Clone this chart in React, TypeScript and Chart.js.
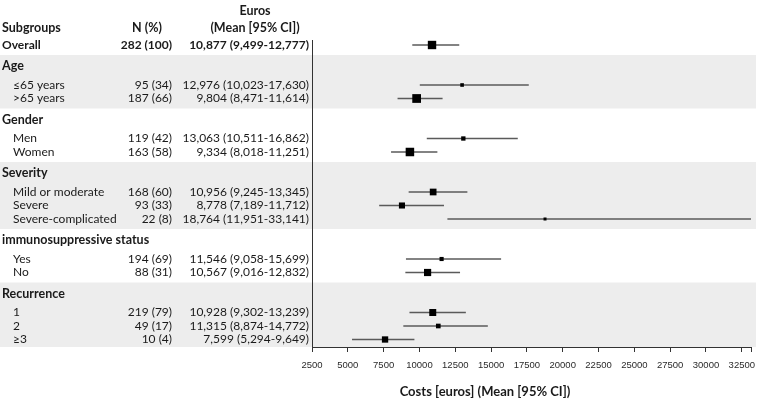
import React, { useEffect, useRef } from 'react';
import { Chart, registerables } from 'chart.js';

Chart.register(...registerables);

// ---- data ----
const groupNames = ['Age', 'Gender', 'Severity', 'immunosuppressive status', 'Recurrence'];
const rowLabels = ['Overall', '≤65 years', '>65 years', 'Men', 'Women', 'Mild or moderate', 'Severe', 'Severe-complicated', 'Yes', 'No', '1', '2', '≥3'];
const rowGroup = [null, 'Age', 'Age', 'Gender', 'Gender', 'Severity', 'Severity', 'Severity', 'immunosuppressive status', 'immunosuppressive status', 'Recurrence', 'Recurrence', 'Recurrence'];
const nValues = [282, 95, 187, 119, 163, 168, 93, 22, 194, 88, 219, 49, 10];
const nPct = [100, 34, 66, 42, 58, 60, 33, 8, 69, 31, 79, 17, 4];
const means = [10877, 12976, 9804, 13063, 9334, 10956, 8778, 18764, 11546, 10567, 10928, 11315, 7599];
const lower = [9499, 10023, 8471, 10511, 8018, 9245, 7189, 11951, 9058, 9016, 9302, 8874, 5294];
const upper = [12777, 17630, 11614, 16862, 11251, 13345, 11712, 33141, 15699, 12832, 13239, 14772, 9649];
const xTicks = [2500, 5000, 7500, 10000, 12500, 15000, 17500, 20000, 22500, 25000, 27500, 30000, 32500];
const xMin = 2500;
const xMax = 33141;

const fmt = (v: number) => v.toLocaleString('en-US');

export default function App() {
  const ref = useRef<HTMLCanvasElement>(null);

  useEffect(() => {
    document.body.style.margin = '0';
    const canvas = ref.current;
    if (!canvas) return;

    // layout of rows (vertical positions in px-like units)
    const rowPos: number[] = [];
    const headers: { name: string; pos: number; first: number; last: number }[] = [];
    let p = 0;
    let prev: string | null = null;
    rowLabels.forEach((_, i) => {
      const g = rowGroup[i];
      if (i === 0) {
        p = 0;
      } else if (g !== prev) {
        p += 21;
        headers.push({ name: g as string, pos: p, first: i, last: i });
        p += 19;
      } else {
        p += 13.5;
      }
      if (headers.length && g === headers[headers.length - 1].name) headers[headers.length - 1].last = i;
      rowPos.push(p);
      prev = g;
    });

    const textColor = '#1a1a1a';
    const fontFam = 'Lato, "Open Sans", sans-serif';

    const tablePlugin = {
      id: 'tablePlugin',
      beforeDraw(chart: any) {
        const { ctx, chartArea } = chart;
        const y = chart.scales.y;
        ctx.save();
        ctx.fillStyle = '#ededed';
        headers.forEach((h, gi) => {
          if (gi % 2 !== 0) return;
          const top = y.getPixelForValue(h.pos - 11);
          const bottom = Math.min(y.getPixelForValue(rowPos[h.last] + 10), chartArea.bottom);
          ctx.fillRect(0, top, 756, bottom - top);
        });
        ctx.restore();
      },
      afterDraw(chart: any) {
        const { ctx } = chart;
        const y = chart.scales.y;
        ctx.save();
        ctx.fillStyle = textColor;
        ctx.textBaseline = 'middle';
        // column headers
        ctx.font = `bold 12.5px ${fontFam}`;
        ctx.textAlign = 'left';
        ctx.fillText('Subgroups', 2, 28);
        ctx.textAlign = 'center';
        ctx.fillText('N (%)', 147, 28);
        ctx.fillText('Euros', 255, 11);
        ctx.fillText('(Mean [95% CI])', 255, 28);
        // group headers
        headers.forEach((h) => {
          ctx.textAlign = 'left';
          ctx.font = `bold 12.5px ${fontFam}`;
          ctx.fillText(h.name, 2, y.getPixelForValue(h.pos));
        });
        // rows
        rowLabels.forEach((lab, i) => {
          const py = y.getPixelForValue(rowPos[i]);
          const bold = rowGroup[i] === null;
          ctx.font = `${bold ? 'bold ' : ''}12px ${fontFam}`;
          ctx.textAlign = 'left';
          ctx.fillText(lab, bold ? 2 : 13, py);
          ctx.textAlign = 'right';
          ctx.fillText(`${nValues[i]} (${nPct[i]})`, 172, py);
          ctx.fillText(`${fmt(means[i])} (${fmt(lower[i])}-${fmt(upper[i])})`, 309, py);
        });
        // axis title
        ctx.font = `bold 13px ${fontFam}`;
        ctx.textAlign = 'center';
        ctx.fillText('Costs [euros] (Mean [95% CI])', 485, 392);
        ctx.restore();
      },
    };

    const markerData = means.map((m, i) => ({ x: m, y: rowPos[i] }));
    const markerSide = means.map((_, i) => Math.max(3, 27500 / (upper[i] - lower[i])));

    const ciDatasets = means.map((_, i) => ({
      type: 'scatter' as const,
      data: [
        { x: lower[i], y: rowPos[i] },
        { x: upper[i], y: rowPos[i] },
      ],
      showLine: true,
      borderColor: '#5a5a5a',
      borderWidth: 1.3,
      pointRadius: 0,
      pointHoverRadius: 0,
    }));

    const chart = new Chart(canvas, {
      type: 'scatter',
      data: {
        datasets: [
          {
            data: markerData,
            pointStyle: 'rect',
            backgroundColor: '#000',
            borderColor: '#000',
            borderWidth: 0,
            pointRadius: (c: any) => markerSide[c.dataIndex] / Math.SQRT2,
            pointHoverRadius: (c: any) => markerSide[c.dataIndex] / Math.SQRT2,
          },
          ...ciDatasets,
        ] as any,
      },
      options: {
        responsive: false,
        animation: false,
        events: [],
        layout: { autoPadding: false, padding: { left: 312, top: 40, right: 7, bottom: 0 } },
        plugins: { legend: { display: false }, tooltip: { enabled: false } },
        scales: {
          x: {
            type: 'linear',
            min: xMin,
            max: xMax,
            afterBuildTicks: (scale: any) => {
              scale.ticks = [...xTicks, xMax].map((v) => ({ value: v }));
            },
            afterFit: (scale: any) => {
              scale.height = 58;
            },
            grid: { display: true, drawOnChartArea: false, drawTicks: true, tickLength: 5, color: '#333', lineWidth: 1 },
            border: { display: true, color: '#333', width: 1 },
            ticks: {
              autoSkip: false,
              maxRotation: 0,
              padding: 8,
              color: '#2a2a2a',
              font: { family: '"Liberation Sans", Arial, sans-serif', size: 9.5 },
              callback: (v: any) => (v === xMax ? '' : String(v)),
            },
          },
          y: {
            type: 'linear',
            reverse: true,
            min: -5,
            max: 302,
            afterFit: (scale: any) => {
              scale.width = 0;
            },
            grid: { display: false },
            border: { display: true, color: '#333', width: 1 },
            ticks: { display: false },
          },
        },
      },
      plugins: [tablePlugin],
    });

    return () => chart.destroy();
  }, []);

  return (
    <div style={{ width: 759, height: 405 }}>
      <canvas ref={ref} width={759} height={405} style={{ display: 'block' }} />
    </div>
  );
}
